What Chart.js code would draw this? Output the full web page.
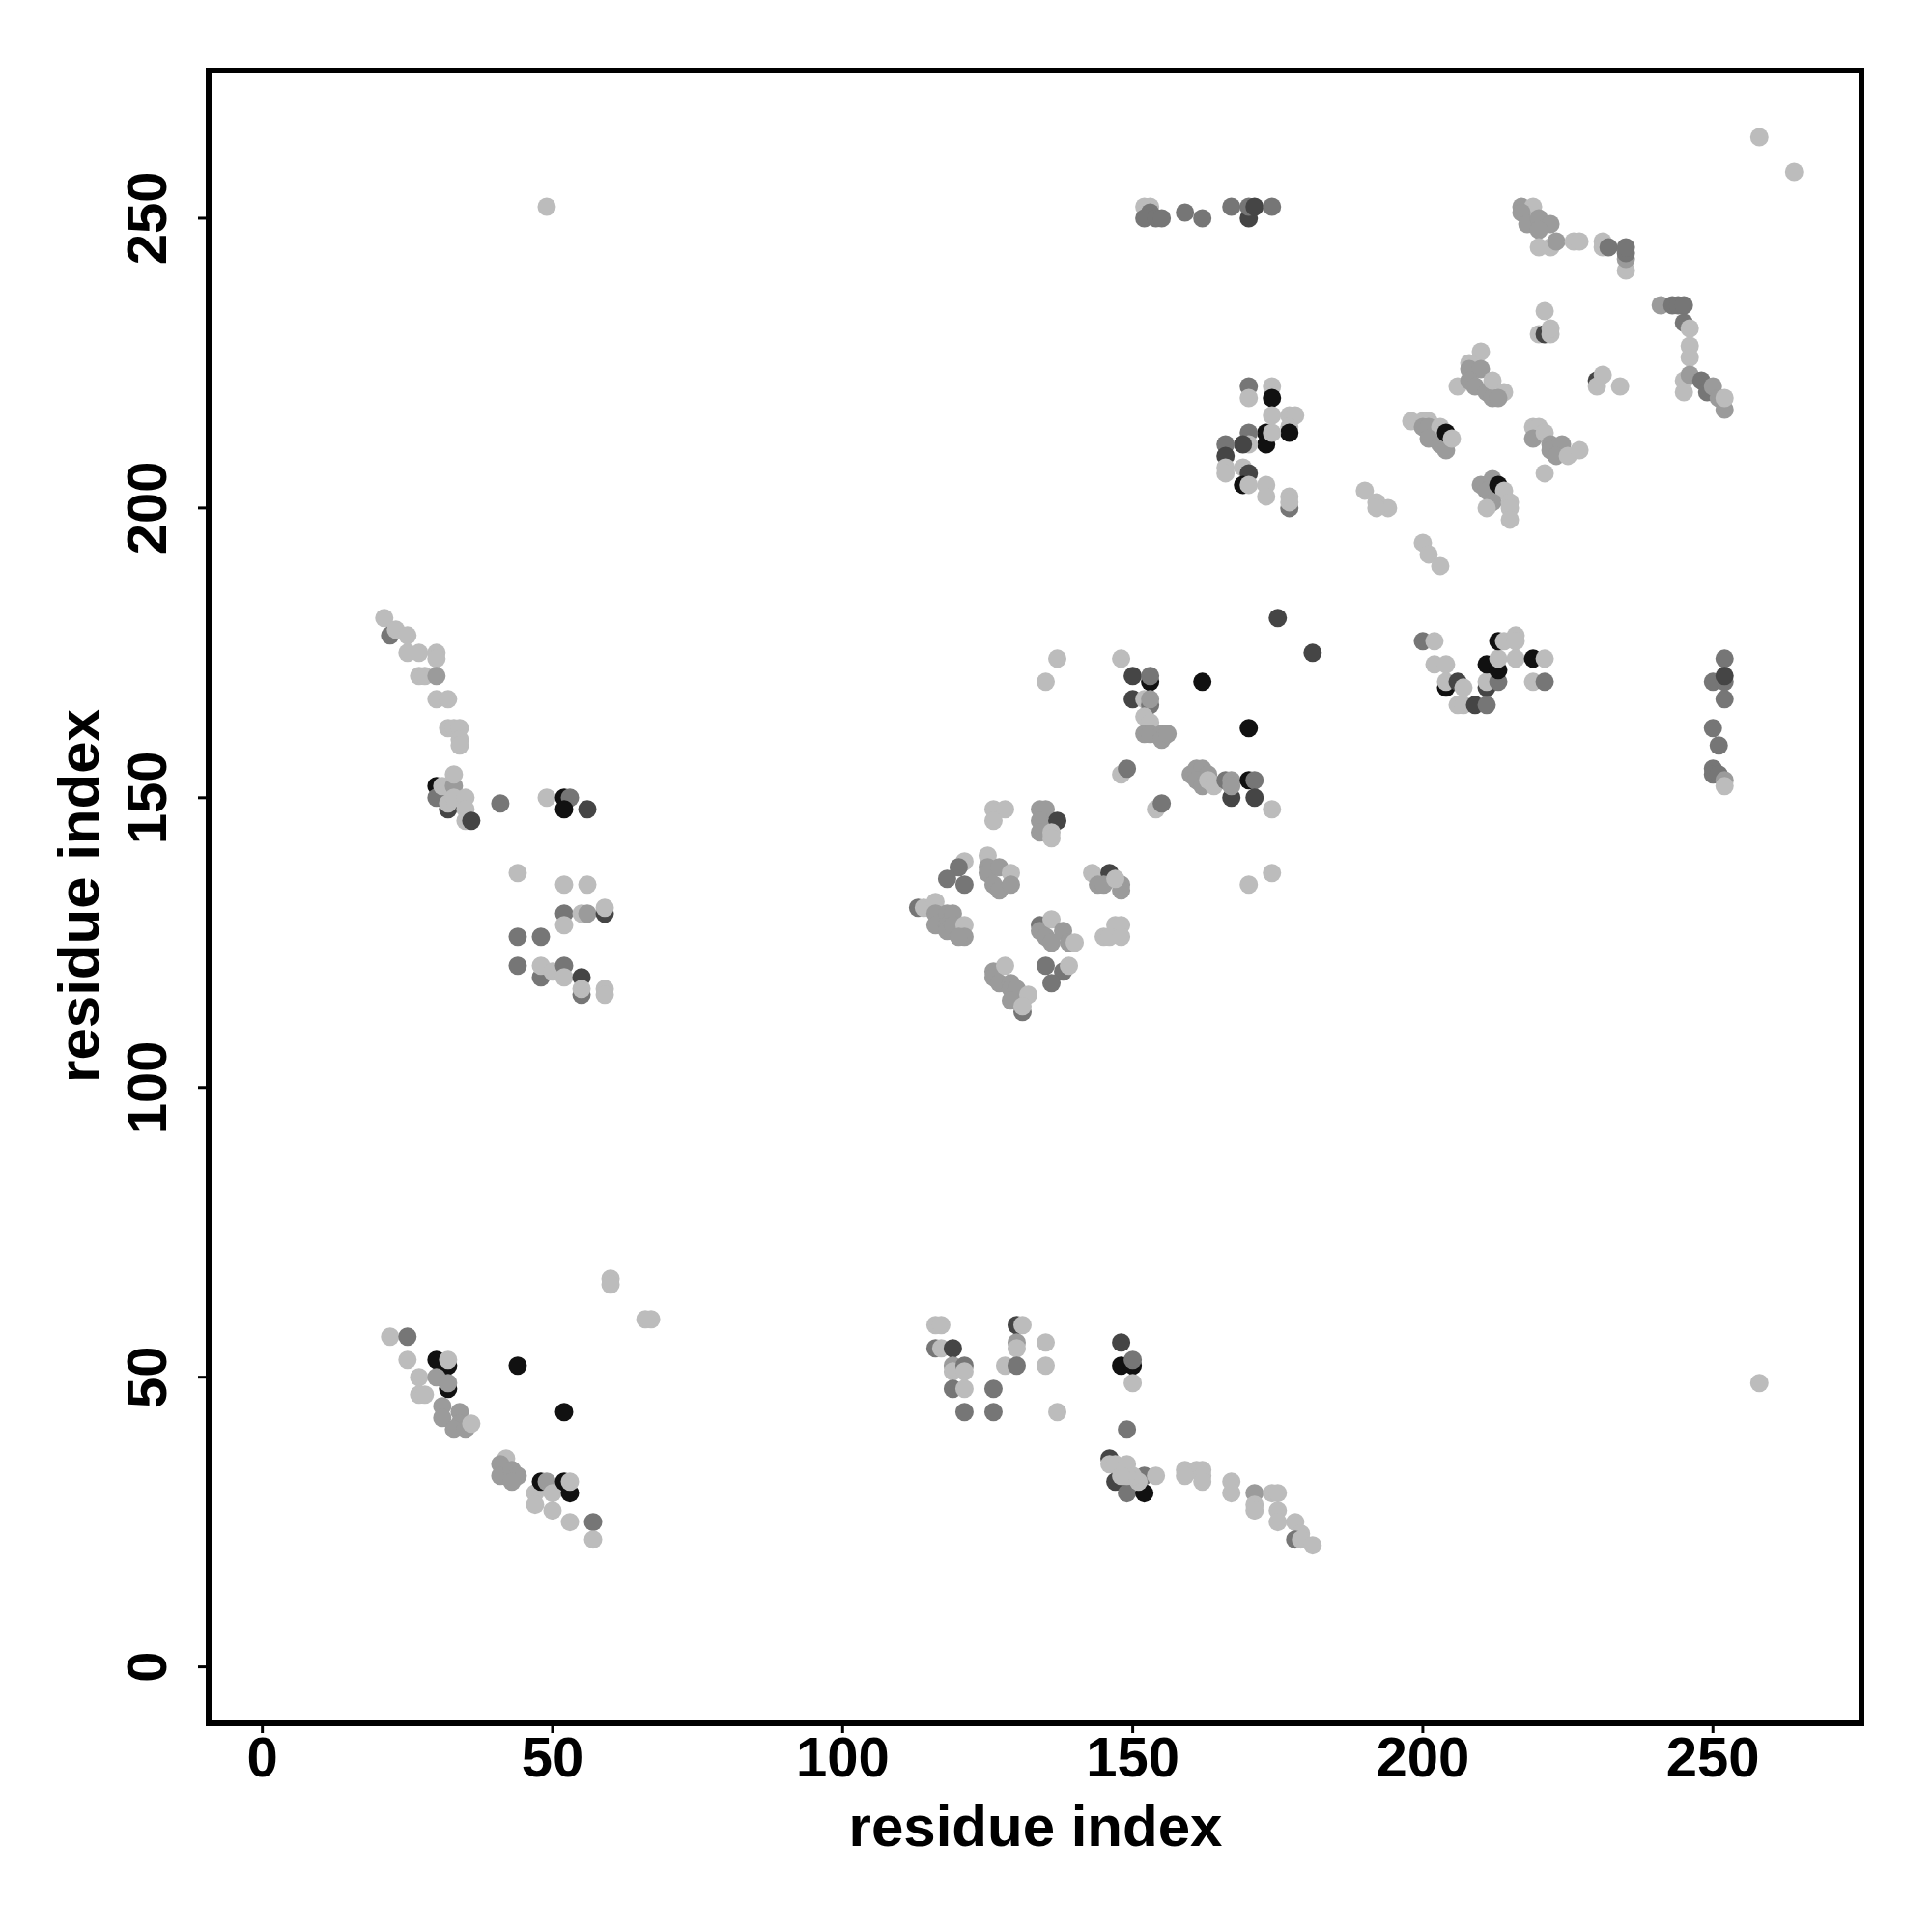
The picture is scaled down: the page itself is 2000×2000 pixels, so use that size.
<!DOCTYPE html>
<html>
<head>
<meta charset="utf-8">
<script src="https://cdn.jsdelivr.net/npm/chart.js@4.4.1/dist/chart.umd.min.js"></script>
<style>
  html, body { margin: 0; padding: 0; background: #fff; }
</style>
</head>
<body>
<canvas id="chart" width="2000" height="2000"></canvas>
<script>
// contacts as [residue i, residue j, level] ; level 1 = weakest (light) .. 5 = strongest (black)
const topLeft = [
  [21,181,1],[22,178,3],[23,179,1],[25,178,1],[25,175,1],[27,175,1],[30,175,1],[30,174,1],[27,171,1],[28,171,1],
  [30,171,2],[30,167,1],[32,167,1],[32,162,1],[33,162,1],[34,162,1],[34,160,1],[34,159,1],
  [30,152,5],[30,150,3],[31,152,1],[33,152,2],[33,154,1],[32,148,4],[32,149,1],[33,150,1],[35,150,1],[35,148,1],
  [35,146,1],[36,146,4],
  [41,149,3],[49,150,1],[52,150,5],[53,150,3],[52,148,5],[56,148,4],
  [44,137,1],[52,135,1],[56,135,1],[52,130,3],[52,128,1],[55,130,1],[56,130,2],[59,130,4],[59,131,1],
  [44,126,3],[48,126,3],[44,121,3],[48,119,3],[48,121,1],[50,120,1],[52,121,3],[52,119,1],[55,119,4],[55,116,3],
  [55,117,1],[59,117,1],[59,116,1]
];
const bottomLeft = [
  [22,57,1],[25,57,3],[25,53,1],[30,53,5],[32,52,5],[32,53,1],[27,50,1],[30,50,2],[32,48,5],[32,49,2],
  [27,47,1],[28,47,1],[31,45,2],[31,43,2],[34,44,2],[34,42,2],[33,41,2],[35,41,2],[36,42,1],
  [44,52,5],[52,44,5],
  [42,36,1],[41,35,2],[41,33,2],[43,34,2],[44,33,2],[43,32,2],[47,30,1],[47,28,1],[48,32,5],[49,32,2],
  [50,30,1],[52,32,5],[53,30,5],[53,32,1],[50,27,1],[53,25,1],[57,25,3],[57,22,1],
  [60,67,1],[60,66,1],[66,60,1],[67,60,1]
];
const bottomMiddle = [
  [116,59,1],[117,59,1],[116,55,3],[117,55,1],[119,55,4],[119,52,2],[119,51,1],[121,52,3],[121,51,1],[119,48,3],
  [121,48,1],[126,48,3],[121,44,3],[126,44,3],
  [130,59,4],[131,59,1],[130,56,2],[130,55,1],[128,52,1],[130,52,3],[135,56,1],[135,52,1],[137,44,1],
  [148,56,4],[148,52,5],[150,52,5],[150,53,3],[150,49,1],[149,41,3],
  [146,36,4],[146,35,1],[147,35,1],[149,35,1],[147,32,4],[149,30,3],[152,30,5],[152,33,3],[154,33,1],[151,32,1],
  [150,33,1],[149,33,1],[148,33,1],
  [159,34,1],[161,34,1],[162,34,1],[159,33,1],[162,33,1],[162,32,1],[167,32,1],[167,30,1],[171,30,2],[171,28,1],
  [171,27,1],[174,30,1],[175,30,1],[175,27,1],[175,25,1],[178,25,1],[179,23,1],[178,22,3],[179,22,1],[181,21,1]
];
const centre = [
  [113,131,3],[114,131,1],[116,132,1],[116,130,2],[116,128,2],[118,130,2],[118,128,2],[118,127,2],[119,130,2],[119,128,2],
  [121,128,1],[121,126,2],[120,126,2],
  [121,139,1],[120,138,3],[118,136,3],[121,135,3],[125,140,1],[125,138,2],[125,137,2],[127,138,2],[126,135,2],[127,134,2],
  [129,137,1],[129,135,2],
  [126,148,1],[128,148,1],[126,146,1],[134,148,2],[135,148,2],[134,146,2],[134,144,2],[137,146,4],[136,144,1],[136,143,1],
  [134,128,3],[134,127,2],[136,129,1],[135,126,2],[136,125,2],[138,127,2],[139,125,2],[140,125,1],
  [135,121,3],[138,120,3],[136,118,3],[139,121,1],
  [126,120,2],[126,119,2],[128,121,1],[127,118,2],[129,118,2],[129,117,2],[130,117,2],[129,115,2],[132,116,1],[131,113,3],
  [131,114,1],
  [143,137,1],[146,137,4],[144,135,2],[145,135,2],[148,135,2],[148,134,2],[147,136,1],
  [145,126,1],[147,128,1],[148,128,1],[146,126,1],[148,126,1]
];
const centreUpper = [
  [137,174,1],[135,170,1],[148,174,1],[148,154,1],[149,155,3],
  [150,171,4],[153,170,5],[153,171,3],[150,167,4],[152,167,1],[153,166,3],[153,167,2],[152,164,1],[153,163,1],[152,161,2],
  [153,161,2],[155,161,2],[155,160,2],[156,161,2],
  [162,170,5],[170,162,5],[175,181,4],[181,175,4],[154,148,1],[155,149,3],
  [160,154,2],[161,155,2],[162,155,2],[163,154,2],[161,153,2],[162,152,2],[163,153,1],[164,152,1],[166,153,3],[167,150,4],
  [167,153,2],[167,152,2],[170,153,5],[171,153,3],[171,150,4],[174,148,1],[174,137,1],[170,135,1]
];
const topMiddle = [
  [152,252,1],[153,252,1],[153,251,3],[152,250,3],[154,250,3],[155,250,3],[159,251,3],[162,250,3],[167,252,3],[170,250,4],
  [170,252,3],[171,252,4],[174,252,3],
  [170,221,3],[170,219,1],[174,221,1],[174,219,5],[174,216,1],[177,216,1],[178,216,1],[177,214,1],[177,213,5],[173,213,5],
  [173,211,5],[174,213,1],[170,213,3],[170,211,1],[169,211,4],[166,211,3],[166,209,4],[166,207,1],[166,206,1],[169,207,1],
  [170,206,4],[169,204,5],[170,204,1],[173,204,1],[173,202,1],[177,200,3],[177,202,1],[177,201,1]
];
const topRight = [
  [217,252,2],[219,252,1],[217,251,2],[218,249,2],[220,250,2],[222,249,2],[220,248,2],[220,245,1],[222,245,1],[223,246,2],
  [226,246,1],[227,246,1],[231,246,1],[231,245,1],[232,245,3],[235,241,1],[235,243,2],[235,244,3],[235,245,3],
  [221,234,1],[220,230,1],[221,230,4],[222,230,1],[222,231,1],
  [241,235,2],[243,235,3],[244,235,3],[245,235,3],[245,232,3],[246,231,1],[246,228,1],[246,226,1],[245,222,1],[245,220,1],
  [246,223,2],[248,222,3],[249,220,3],[250,221,2],[251,219,2],[252,217,2],[252,219,1],
  [230,222,4],[230,221,1],[231,223,1],[234,221,1],
  [210,227,1],[208,225,1],[208,224,2],[210,224,2],[206,221,1],[208,222,2],[209,221,2],[211,220,2],[212,219,2],[212,222,1],
  [214,220,1],[213,219,2],
  [198,215,1],[200,215,1],[201,215,1],[200,214,2],[201,214,2],[203,214,1],[201,212,2],[203,211,2],[204,210,2],[204,213,5],
  [205,212,1],
  [219,214,1],[220,214,1],[219,212,2],[221,213,1],[222,211,2],[222,210,2],[224,211,2],[223,209,2],[225,209,1],[227,210,1],
  [221,206,1],
  [190,203,1],[192,201,1],[194,200,1],[192,200,1],[200,194,1],[201,192,1],[203,190,1],
  [210,204,2],[212,205,2],[211,203,2],[213,204,5],[214,203,1],[212,201,2],[211,200,1],[215,201,1],[215,200,1],[215,198,1]
];
const rightMiddle = [
  [200,177,3],[202,177,1],[202,173,1],[204,173,1],[204,169,5],[204,170,1],[206,170,4],[207,169,1],[206,166,1],[207,166,1],
  [209,166,4],[211,166,3],
  [211,169,4],[211,170,1],[213,170,3],[211,173,5],[213,172,5],[213,174,1],[213,177,5],[214,177,1],[216,178,1],[216,177,1],
  [216,174,1],[219,174,5],[221,174,1],[219,170,1],[221,170,3],
  [252,174,3],[250,170,3],[252,170,3],[252,171,4],[252,167,3],[250,162,3],[251,159,3],[250,155,3],[250,154,3],[251,154,3],
  [252,153,2],[252,152,1]
];
const isolated = [[49,252,1],[258,264,1],[264,258,1],[258,49,1]];

const tickValues = [0, 50, 100, 150, 200, 250];
const axisTitle = "residue index";

const levelColors = ["#bcbcbc", "#9b9b9b", "#767676", "#454545", "#111111"];

const contacts = [].concat(topLeft, bottomLeft, bottomMiddle, centre, centreUpper, topMiddle, topRight, rightMiddle, isolated);

const FONT = '"Liberation Sans", Arial, Helvetica, sans-serif';

// frame, ticks and labels drawn R-style
const framePlugin = {
    id: "frame",
    afterDraw(chart) {
        const ctx = chart.ctx;
        const a = chart.chartArea;
        const sx = chart.scales.x, sy = chart.scales.y;
        ctx.save();
        ctx.strokeStyle = "#000";
        ctx.lineWidth = 6;
        ctx.strokeRect(a.left - 1, a.top, a.right - a.left + 1, a.bottom - a.top + 2);

        ctx.lineWidth = 3;
        ctx.fillStyle = "#000";
        ctx.font = "bold 58px " + FONT;
        tickValues.forEach(v => {
            const x = sx.getPixelForValue(v);
            ctx.beginPath();
            ctx.moveTo(x, a.bottom);
            ctx.lineTo(x, a.bottom + 12);
            ctx.stroke();
            ctx.textAlign = "center";
            ctx.textBaseline = "alphabetic";
            ctx.fillText(String(v), x, 1839);

            const y = sy.getPixelForValue(v);
            ctx.beginPath();
            ctx.moveTo(a.left, y);
            ctx.lineTo(a.left - 12, y);
            ctx.stroke();
            ctx.save();
            ctx.translate(172, y);
            ctx.rotate(-Math.PI / 2);
            ctx.fillText(String(v), 0, 0);
            ctx.restore();
        });

        ctx.font = "bold 60px " + FONT;
        ctx.textAlign = "center";
        ctx.fillText(axisTitle, (a.left + a.right) / 2, 1911);
        ctx.save();
        ctx.translate(102, (a.top + a.bottom) / 2);
        ctx.rotate(-Math.PI / 2);
        ctx.fillText(axisTitle, 0, 0);
        ctx.restore();
        ctx.restore();
    }
};

new Chart(document.getElementById("chart"), {
    type: "scatter",
    data: {
        datasets: [{
            data: contacts.map(c => ({ x: c[0], y: c[1] })),
            pointBackgroundColor: contacts.map(c => levelColors[c[2] - 1]),
            pointBorderWidth: 0,
            pointRadius: 9.5,
            pointHoverRadius: 9.5
        }]
    },
    options: {
        responsive: false,
        animation: false,
        devicePixelRatio: 1,
        events: [],
        layout: { padding: { left: 217, right: 73, top: 73, bottom: 218 } },
        plugins: { legend: { display: false }, tooltip: { enabled: false } },
        scales: {
            x: { type: "linear", display: false, min: -9.1, max: 275.6 },
            y: { type: "linear", display: false, min: -9.4, max: 275.5 }
        }
    },
    plugins: [framePlugin]
});
</script>
</body>
</html>
